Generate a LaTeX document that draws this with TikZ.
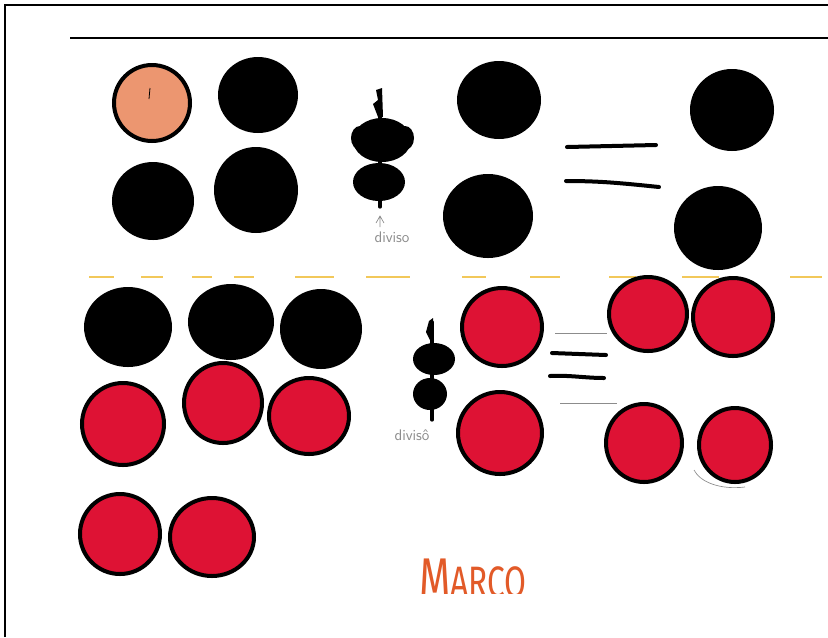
\documentclass[tikz,border=0pt]{standalone}
\usepackage{fontspec}
\newfontfamily\marcofont{Fira Sans}
\definecolor{redfill}{RGB}{222,18,52}
\definecolor{peach}{RGB}{236,150,112}
\definecolor{yel}{RGB}{242,200,90}
\definecolor{marco}{RGB}{226,90,40}
\definecolor{pencil}{RGB}{140,140,140}
\tikzset{
  blkdot/.style={fill=black,draw=black,line width=3pt},
  reddot/.style={fill=redfill,draw=black,line width=3pt},
  peachdot/.style={fill=peach,draw=black,line width=3pt},
  eqline/.style={line width=3pt,line cap=round},
  stem/.style={line width=2.5pt,line cap=round},
  blob/.style={fill=black},
  pencilline/.style={draw=pencil,line width=0.5pt},
  yeldash/.style={draw=yel,line width=1.5pt},
  label/.style={text=pencil,font=\sffamily\fontsize{11.5}{13}\selectfont,inner sep=0pt}
}
\begin{document}
\begin{tikzpicture}[x=0.75pt,y=-0.75pt]
\useasboundingbox (0,0) rectangle (828,637);
\fill[white] (0,0) rectangle (828,637);
% frame
\draw[line width=2.2pt] (5,637) -- (5,5) -- (828,5);
\draw[line width=1.6pt] (70,38) -- (828,38);

% ---------- top half ----------
\draw[peachdot] (152,103) ellipse [x radius=38, y radius=38];
\draw[line width=0.6pt] (150,88) -- (149,99);
\draw[blkdot] (258,95) ellipse [x radius=38, y radius=36];
\draw[blkdot] (153,201) ellipse [x radius=39, y radius=37];
\draw[blkdot] (256,190) ellipse [x radius=40, y radius=41];

% division symbol 1
\draw[stem] (380,95) -- (380,207);
\fill (376,90) -- (382,88) -- (383,117) -- (378,117) -- (373,104) -- (378,100) -- cycle;
\fill[blob] (382,140) ellipse [x radius=29, y radius=22];
\fill[blob] (360,138) ellipse [x radius=9, y radius=12];
\fill[blob] (405,138) ellipse [x radius=9, y radius=12];
\fill[blob] (379,182) ellipse [x radius=26, y radius=19];
\draw[pencil,line width=0.5pt] (376,223) -- (380,216) -- (384,223) (380,216) -- (380,227);
\node[label] (div1) at (392,237) {diviso};

\draw[blkdot] (499,100) ellipse [x radius=40, y radius=37];
\draw[blkdot] (488,216) ellipse [x radius=43, y radius=40];

% equals 1
\draw[eqline] (567,147) -- (656,145);
\draw[eqline] (566,181) .. controls (600,181) and (620,183) .. (659,187);

\draw[blkdot] (732,110) ellipse [x radius=40, y radius=39];
\draw[blkdot] (718,228) ellipse [x radius=42, y radius=40];

% yellow dashed separator
\foreach \a/\b in {89/114,141/163,192/212,234/254,295/334,366/410,462/486,530/560,609/636,682/719,790/822}
  \draw[yeldash] (\a,277) -- (\b,277);

% ---------- bottom half ----------
\draw[blkdot] (128,327) ellipse [x radius=42, y radius=38];
\draw[blkdot] (231,322) ellipse [x radius=41, y radius=36];
\draw[blkdot] (321,329) ellipse [x radius=39, y radius=38];
\draw[reddot] (123,424) ellipse [x radius=41, y radius=41];
\draw[reddot] (223,403) ellipse [x radius=39, y radius=40];
\draw[reddot] (309,416) ellipse [x radius=40, y radius=38];
\draw[reddot] (120,534) ellipse [x radius=40, y radius=40];
\draw[reddot] (212,537) ellipse [x radius=42, y radius=39];

% division symbol 2
\draw[stem] (432,322) -- (432,420);
\fill (429,321) -- (433,318) -- (434,340) -- (430,340) -- (426,332) -- cycle;
\fill[blob] (434,359) ellipse [x radius=21, y radius=16];
\fill[blob] (430,394) ellipse [x radius=17, y radius=16];
\node[label] (div2) at (412,435) {divisô};

\draw[reddot] (502,327) ellipse [x radius=40, y radius=39];
\draw[reddot] (500,433) ellipse [x radius=42, y radius=41];

% equals 2
\draw[pencilline] (555,333) -- (607,333);
\draw[eqline] (552,353) -- (606,355);
\draw[eqline] (550,376) .. controls (570,375) and (585,378) .. (604,378);
\draw[pencilline] (560,403) -- (617,403);

\draw[reddot] (648,314) ellipse [x radius=39, y radius=37];
\draw[reddot] (733,317) ellipse [x radius=40, y radius=39];
\draw[reddot] (644,443) ellipse [x radius=38, y radius=39];
\draw[reddot] (735,445) ellipse [x radius=36, y radius=37];
\draw[pencilline] (694,470) .. controls (700,482) and (720,490) .. (745,487);

% name
\begin{scope}
\clip (0,0) rectangle (828,593);
\node[anchor=base west, inner sep=0pt, text=marco] (name) at (419,597)
  {\scalebox{0.72}[1]{\marcofont\fontsize{42}{42}\selectfont M\fontsize{33}{33}\selectfont ARCO}};
\end{scope}
\end{tikzpicture}
\end{document}
